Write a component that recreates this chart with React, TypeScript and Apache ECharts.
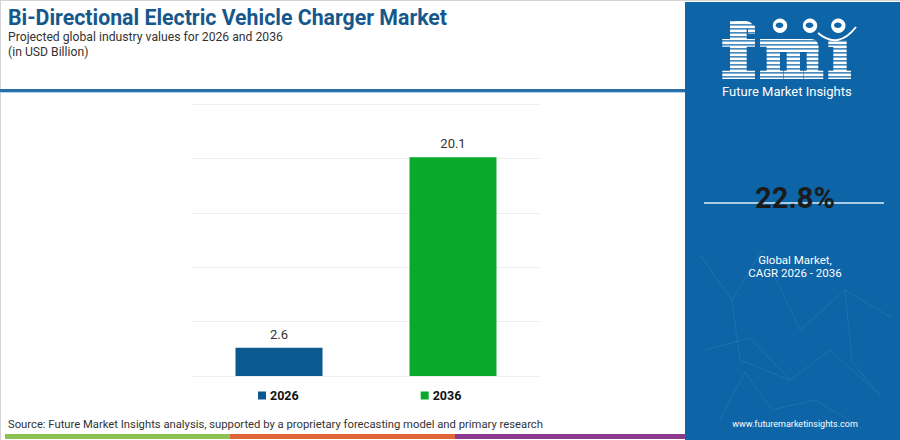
import React, { useEffect, useRef } from "react";
import * as echarts from "echarts";

const categories = ["2026", "2036"];
const seriesNames = ["2026", "2036"];
const values2026: (number | null)[] = [2.6, null];
const values2036: (number | null)[] = [null, 20.1];
const yMin = 0;
const yMax = 25;
const yInterval = 5;

const titleText = "Bi-Directional Electric Vehicle Charger Market";
const subtitleText = "Projected global industry values for 2026 and 2036";
const unitText = "(in USD Billion)";
const sourceText =
  "Source: Future Market Insights analysis, supported by a proprietary forecasting model and primary research";
const cagrValue = "22.8%";
const cagrLines = ["Global Market,", "CAGR 2026 - 2036"];
const siteText = "www.futuremarketinsights.com";
const brandText = "Future Market Insights";

const PANEL = "#0d64a6";

// logo letter blocks [x0, y0, x1, y1, radius]
const logoBlocks: number[][] = [
  // f
  [730, 21.3, 753, 29, 6],
  [748, 25, 755, 34, 2],
  [730, 21.3, 746.7, 79, 0],
  [722.3, 39, 755, 46.7, 0],
  [722.3, 70.7, 755, 79, 0],
  // m
  [760, 39, 770, 46.7, 0],
  [766.7, 39, 818.3, 52, 7],
  [766.7, 39, 780, 79, 0],
  [786.7, 45, 800, 79, 0],
  [806.7, 45, 818.3, 79, 0],
  [760, 70.7, 783.3, 79, 0],
  [783.8, 70.7, 803, 79, 0],
  [803.5, 70.7, 823.3, 79, 0],
  // i
  [828.3, 40.5, 840, 47, 0],
  [833.3, 40.5, 846.7, 79, 0],
  [828.3, 70.7, 851, 79, 0],
];

export default function App() {
  const ref = useRef<HTMLDivElement>(null);
  useEffect(() => {
    document.body.style.margin = "0";
    const chart = echarts.init(ref.current!, null, { renderer: "svg" });

    const letters = logoBlocks.map(([x0, y0, x1, y1, r]) => ({
      type: "rect",
      z: 11,
      shape: { x: x0, y: y0, width: x1 - x0, height: y1 - y0, r: r ? [r, r, 0, 0] : 0 },
      style: { fill: "#ffffff" },
    }));

    const stripes: any[] = [];
    for (let y = 24.2; y <= 78; y += 4) {
      stripes.push({
        type: "rect",
        shape: { x: 718, y, width: 140, height: 1.3 },
        style: { fill: PANEL },
        z: 12,
      });
    }

    const network: any[] = [
      [[700, 255], [732, 300], [762, 250], [800, 330], [845, 290], [892, 318]],
      [[705, 350], [750, 338], [790, 380], [830, 350], [880, 395]],
      [[720, 420], [745, 372], [772, 410], [815, 400], [862, 428]],
      [[732, 300], [740, 360], [790, 380]],
      [[845, 290], [852, 362], [880, 395]],
    ].map((pts) => ({
      type: "polyline",
      shape: { points: pts },
      style: { stroke: "rgba(255,255,255,0.08)", lineWidth: 1, fill: null },
      z: 11,
    }));

    const globes = [780, 810, 838.3].flatMap((cx) => [
      { type: "circle", shape: { cx, cy: 25.7, r: 7.2 }, style: { fill: "#ffffff" }, z: 13 },
      { type: "ellipse", shape: { cx: cx - 0.5, cy: 25.2, rx: 3.8, ry: 2.8 }, style: { fill: PANEL }, z: 14 },
    ]);

    chart.setOption({
      animation: false,
      backgroundColor: "#ffffff",
      grid: { left: 192, right: 360, top: 104, bottom: 64, containLabel: false },
      legend: {
        data: seriesNames,
        left: 258,
        top: 389,
        padding: 0,
        itemWidth: 8,
        itemHeight: 8,
        itemGap: 122,
        icon: "rect",
        textStyle: { fontFamily: "Roboto", fontWeight: "bold", fontSize: 12.5, color: "#111", padding: [0, 0, 0, -1] },
      },
      xAxis: {
        type: "category",
        data: categories,
        axisLine: { show: false },
        axisTick: { show: false },
        axisLabel: { show: false },
      },
      yAxis: {
        type: "value",
        min: yMin,
        max: yMax,
        interval: yInterval,
        axisLabel: { show: false },
        axisLine: { show: false },
        axisTick: { show: false },
        splitLine: { lineStyle: { color: "#efefef", width: 1 } },
      },
      series: [
        {
          name: seriesNames[0],
          type: "bar",
          data: values2026,
          barWidth: 87,
          barGap: "-100%",
          itemStyle: { color: "#0b5a8f" },
          label: { show: true, position: "top", distance: 7, color: "#333", fontSize: 13, fontFamily: "Roboto" },
        },
        {
          name: seriesNames[1],
          type: "bar",
          data: values2036,
          barWidth: 87,
          barGap: "-100%",
          itemStyle: { color: "#09a92c" },
          label: { show: true, position: "top", distance: 7, color: "#333", fontSize: 13, fontFamily: "Roboto" },
        },
      ],
      graphic: [
        // frame
        { type: "line", shape: { x1: 0, y1: 0.5, x2: 900, y2: 0.5 }, style: { stroke: "#d4d4d4", lineWidth: 1 } },
        { type: "line", shape: { x1: 0.5, y1: 0, x2: 0.5, y2: 440 }, style: { stroke: "#d4d4d4", lineWidth: 1 } },
        // title block
        {
          type: "text",
          style: { text: titleText, x: 8, y: 17.5, verticalAlign: "middle", font: 'bold 21.3px "Roboto"', fill: "#17588c" },
        },
        {
          type: "text",
          style: { text: subtitleText, x: 8, y: 37.3, verticalAlign: "middle", font: '12.2px "Roboto"', fill: "#333" },
        },
        {
          type: "text",
          style: { text: unitText, x: 8, y: 52, verticalAlign: "middle", font: '12.2px "Roboto"', fill: "#333" },
        },
        { type: "rect", shape: { x: 0, y: 89, width: 686, height: 3 }, style: { fill: "#2a6fa6" } },
        { type: "rect", shape: { x: 0, y: 92, width: 686, height: 1 }, style: { fill: "#a9d3ee" } },
        // source
        {
          type: "text",
          style: { text: sourceText, x: 8, y: 424, verticalAlign: "middle", font: '11.25px "Roboto"', fill: "#333" },
        },
        { type: "rect", shape: { x: 5, y: 434, width: 225, height: 5 }, style: { fill: "#8dc153" } },
        { type: "rect", shape: { x: 230, y: 434, width: 225, height: 5 }, style: { fill: "#e0663a" } },
        { type: "rect", shape: { x: 455, y: 434, width: 230, height: 5 }, style: { fill: "#8b3a8f" } },
        // right panel
        { type: "rect", shape: { x: 685, y: 2, width: 215, height: 438 }, style: { fill: PANEL }, z: 10 },
        ...network,
        ...letters,
        ...stripes,
        ...globes,
        {
          type: "bezierCurve",
          z: 13,
          shape: { x1: 818, y1: 33, x2: 856, y2: 27, cpx1: 838, cpy1: 50 },
          style: { stroke: "#ffffff", lineWidth: 2, fill: null },
        },
        {
          type: "text",
          z: 13,
          style: { text: brandText, x: 722, y: 91, verticalAlign: "middle", font: '13px "Roboto"', fill: "#ffffff" },
        },
        { type: "line", z: 12, shape: { x1: 704, y1: 203, x2: 884, y2: 203 }, style: { stroke: "#a8cbe6", lineWidth: 2 } },
        {
          type: "text",
          z: 13,
          style: { text: cagrValue, x: 795, y: 198, align: "center", verticalAlign: "middle", font: 'bold 29px "Roboto"', fill: "#1b1b1b" },
        },
        {
          type: "text",
          z: 13,
          style: { text: cagrLines[0], x: 795, y: 260, align: "center", verticalAlign: "middle", font: '11.5px "Roboto"', fill: "#ffffff" },
        },
        {
          type: "text",
          z: 13,
          style: { text: cagrLines[1], x: 795, y: 273, align: "center", verticalAlign: "middle", font: '11.5px "Roboto"', fill: "#ffffff" },
        },
        {
          type: "text",
          z: 13,
          style: { text: siteText, x: 795, y: 424, align: "center", verticalAlign: "middle", font: '9px "Roboto"', fill: "#ffffff" },
        },
      ],
    });
    return () => chart.dispose();
  }, []);
  return <div ref={ref} style={{ width: 900, height: 440 }} />;
}
